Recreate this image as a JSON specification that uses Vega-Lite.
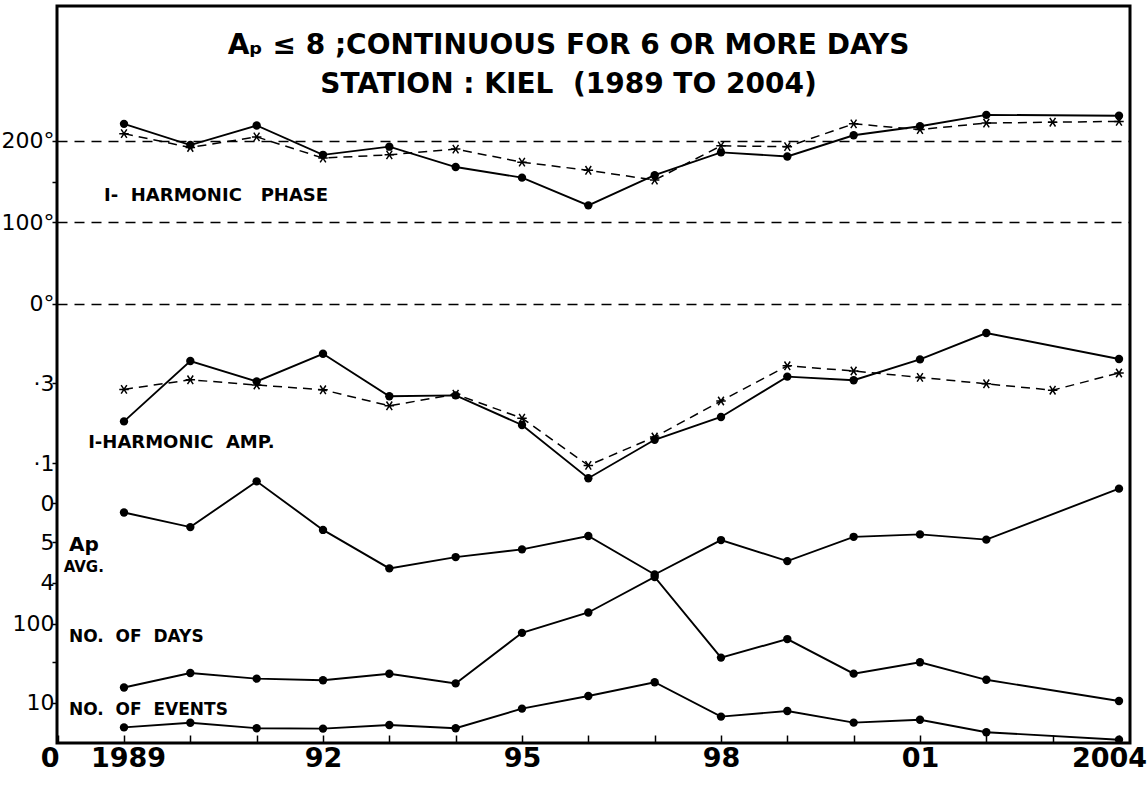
{
  "$schema": "https://vega.github.io/schema/vega-lite/v6.json",
  "width": 1073,
  "height": 737,
  "autosize": "none",
  "padding": {"left": 57, "top": 6, "right": 18, "bottom": 42},
  "background": "white",
  "config": {
    "view": {"stroke": "black", "strokeWidth": 3},
    "font": "DejaVu Sans",
    "axis": {
      "domain": false, "grid": true, "gridColor": "black", "gridWidth": 1.4, "gridDash": [10, 7],
      "tickColor": "black", "tickWidth": 1.5, "labelColor": "black", "labelFont": "DejaVu Sans",
      "labelFontSize": 22, "labelFontWeight": "normal", "title": null
    },
    "axisY": {"tickSize": 5, "labelPadding": -2},
    "line": {"color": "black", "strokeWidth": 1.9},
    "point": {"color": "black"},
    "text": {"color": "black", "font": "DejaVu Sans", "fontWeight": "bold", "fontSize": 17, "align": "left", "baseline": "middle"}
  },
  "title": {
    "text": ["Aₚ ≤ 8 ;CONTINUOUS FOR 6 OR MORE DAYS", "STATION : KIEL\u00a0\u00a0(1989 TO 2004)"],
    "anchor": "middle", "orient": "top", "offset": 0, "baseline": "alphabetic", "lineHeight": 39,
    "dy": 115, "dx": -25, "fontSize": 28, "font": "DejaVu Sans", "fontWeight": "bold", "color": "black"
  },
  "datasets": {
    "phase": [
      {"year": 1989, "s": "dot", "v": 221}, {"year": 1990, "s": "dot", "v": 195}, {"year": 1991, "s": "dot", "v": 219},
      {"year": 1992, "s": "dot", "v": 183}, {"year": 1993, "s": "dot", "v": 193}, {"year": 1994, "s": "dot", "v": 168},
      {"year": 1995, "s": "dot", "v": 155}, {"year": 1996, "s": "dot", "v": 121}, {"year": 1997, "s": "dot", "v": 158},
      {"year": 1998, "s": "dot", "v": 186}, {"year": 1999, "s": "dot", "v": 181}, {"year": 2000, "s": "dot", "v": 207},
      {"year": 2001, "s": "dot", "v": 218}, {"year": 2002, "s": "dot", "v": 232}, {"year": 2004, "s": "dot", "v": 231},
      {"year": 1989, "s": "cross", "v": 209}, {"year": 1990, "s": "cross", "v": 192}, {"year": 1991, "s": "cross", "v": 205},
      {"year": 1992, "s": "cross", "v": 179}, {"year": 1993, "s": "cross", "v": 183}, {"year": 1994, "s": "cross", "v": 190},
      {"year": 1995, "s": "cross", "v": 174}, {"year": 1996, "s": "cross", "v": 164}, {"year": 1997, "s": "cross", "v": 152},
      {"year": 1998, "s": "cross", "v": 194}, {"year": 1999, "s": "cross", "v": 193}, {"year": 2000, "s": "cross", "v": 221},
      {"year": 2001, "s": "cross", "v": 214}, {"year": 2002, "s": "cross", "v": 222}, {"year": 2003, "s": "cross", "v": 223},
      {"year": 2004, "s": "cross", "v": 224}
    ],
    "amp": [
      {"year": 1989, "s": "dot", "v": 0.204}, {"year": 1990, "s": "dot", "v": 0.355}, {"year": 1991, "s": "dot", "v": 0.304},
      {"year": 1992, "s": "dot", "v": 0.373}, {"year": 1993, "s": "dot", "v": 0.267}, {"year": 1994, "s": "dot", "v": 0.269},
      {"year": 1995, "s": "dot", "v": 0.195}, {"year": 1996, "s": "dot", "v": 0.062}, {"year": 1997, "s": "dot", "v": 0.158},
      {"year": 1998, "s": "dot", "v": 0.215}, {"year": 1999, "s": "dot", "v": 0.316}, {"year": 2000, "s": "dot", "v": 0.307},
      {"year": 2001, "s": "dot", "v": 0.359}, {"year": 2002, "s": "dot", "v": 0.425}, {"year": 2004, "s": "dot", "v": 0.36},
      {"year": 1989, "s": "cross", "v": 0.284}, {"year": 1990, "s": "cross", "v": 0.308}, {"year": 1991, "s": "cross", "v": 0.295},
      {"year": 1992, "s": "cross", "v": 0.283}, {"year": 1993, "s": "cross", "v": 0.243}, {"year": 1994, "s": "cross", "v": 0.272},
      {"year": 1995, "s": "cross", "v": 0.212}, {"year": 1996, "s": "cross", "v": 0.094}, {"year": 1997, "s": "cross", "v": 0.165},
      {"year": 1998, "s": "cross", "v": 0.255}, {"year": 1999, "s": "cross", "v": 0.343}, {"year": 2000, "s": "cross", "v": 0.33},
      {"year": 2001, "s": "cross", "v": 0.314}, {"year": 2002, "s": "cross", "v": 0.298}, {"year": 2003, "s": "cross", "v": 0.282},
      {"year": 2004, "s": "cross", "v": 0.325}
    ],
    "ap": [
      {"year": 1989, "v": 5.74}, {"year": 1990, "v": 5.38}, {"year": 1991, "v": 6.51}, {"year": 1992, "v": 5.31},
      {"year": 1993, "v": 4.36}, {"year": 1994, "v": 4.64}, {"year": 1995, "v": 4.83}, {"year": 1996, "v": 5.16},
      {"year": 1997, "v": 4.21}, {"year": 1998, "v": 5.06}, {"year": 1999, "v": 4.54}, {"year": 2000, "v": 5.14},
      {"year": 2001, "v": 5.2}, {"year": 2002, "v": 5.07}, {"year": 2004, "v": 6.33}
    ],
    "days": [
      {"year": 1989, "v": 27.6}, {"year": 1990, "v": 44.1}, {"year": 1991, "v": 37.7}, {"year": 1992, "v": 35.9},
      {"year": 1993, "v": 43.3}, {"year": 1994, "v": 32.3}, {"year": 1995, "v": 89.9}, {"year": 1996, "v": 113.1},
      {"year": 1997, "v": 153.5}, {"year": 1998, "v": 61.7}, {"year": 1999, "v": 82.8}, {"year": 2000, "v": 43.4},
      {"year": 2001, "v": 56.4}, {"year": 2002, "v": 36.4}, {"year": 2004, "v": 12.3}
    ],
    "events": [
      {"year": 1989, "v": 3.9}, {"year": 1990, "v": 5.05}, {"year": 1991, "v": 3.7}, {"year": 1992, "v": 3.6},
      {"year": 1993, "v": 4.5}, {"year": 1994, "v": 3.7}, {"year": 1995, "v": 8.6}, {"year": 1996, "v": 11.75},
      {"year": 1997, "v": 15.2}, {"year": 1998, "v": 6.6}, {"year": 1999, "v": 8}, {"year": 2000, "v": 5.1},
      {"year": 2001, "v": 5.8}, {"year": 2002, "v": 2.7}, {"year": 2004, "v": 0.8}
    ]
  },
  "encoding": {
    "x": {
      "field": "year", "type": "quantitative",
      "scale": {"domain": [1987.99, 2004.166], "nice": false, "zero": false},
      "axis": {
        "grid": false, "orient": "bottom",
        "values": [1988, 1989, 1990, 1991, 1992, 1993, 1994, 1995, 1996, 1997, 1998, 1999, 2000, 2001, 2002, 2003, 2004],
        "labelExpr": "datum.value == 1988 ? '0' : datum.value == 1989 ? '1989' : datum.value == 1992 ? '92' : datum.value == 1995 ? '95' : datum.value == 1998 ? '98' : datum.value == 2001 ? '01' : datum.value == 2004 ? '2004' : ''",
        "labelOffset": {"condition": [{"test": "datum.value == 2004", "value": -10}, {"test": "datum.value == 1988", "value": -8}, {"test": "datum.value == 1989", "value": 4}], "value": 0},
        "tickSize": -8, "labelPadding": 10, "labelFontSize": 27, "labelFontWeight": "bold", "labelFlush": false, "labelOverlap": false
      }
    }
  },
  "layer": [
    {
      "data": {"name": "phase"},
      "encoding": {
        "y": {
          "field": "v", "type": "quantitative",
          "scale": {"domain": [-538.7, 365.6], "nice": false, "zero": false},
          "axis": {
            "orient": "left", "values": [0, 100, 150, 200],
            "labelExpr": "datum.value == 150 ? '' : datum.value + '°'",
            "gridOpacity": {"condition": {"test": "datum.value == 150", "value": 0}, "value": 1}
          }
        }
      },
      "layer": [
        {"transform": [{"filter": "datum.s == 'dot'"}], "mark": {"type": "line", "point": {"filled": true, "size": 70}}},
        {"transform": [{"filter": "datum.s == 'cross'"}], "mark": {"type": "line", "strokeDash": [9, 6], "strokeWidth": 1.5, "point": {"shape": "M-1,0L1,0M-0.6,-0.9L0.6,0.9M0.6,-0.9L-0.6,0.9", "filled": false, "size": 90, "strokeWidth": 1.5}}},
        {"data": {"values": [{"year": 1988.7, "v": 132, "t": "I-\u00a0\u00a0HARMONIC\u00a0\u00a0\u00a0PHASE"}]}, "mark": {"type": "text", "fontSize": 18}, "encoding": {"text": {"field": "t"}}}
      ]
    },
    {
      "data": {"name": "amp"},
      "encoding": {
        "y": {
          "field": "v", "type": "quantitative",
          "scale": {"domain": [-0.6, 1.2425], "nice": false, "zero": false},
          "axis": {
            "orient": "left", "values": [0, 0.1, 0.3],
            "labelExpr": "datum.value == 0 ? '0' : datum.value > 0.2 ? '·3' : '·1'",
            "gridDash": {"condition": {"test": "datum.value > 0.05 && datum.value < 0.2", "value": []}, "value": [10, 7]},
            "gridOpacity": {"condition": {"test": "datum.value > 0.2", "value": 0}, "value": 1}
          }
        }
      },
      "layer": [
        {"transform": [{"filter": "datum.s == 'dot'"}], "mark": {"type": "line", "point": {"filled": true, "size": 70}}},
        {"transform": [{"filter": "datum.s == 'cross'"}], "mark": {"type": "line", "strokeDash": [9, 6], "strokeWidth": 1.5, "point": {"shape": "M-1,0L1,0M-0.6,-0.9L0.6,0.9M0.6,-0.9L-0.6,0.9", "filled": false, "size": 90, "strokeWidth": 1.5}}},
        {"data": {"values": [{"year": 1988.46, "v": 0.15, "t": "I-HARMONIC\u00a0\u00a0AMP."}]}, "mark": {"type": "text", "fontSize": 18}, "encoding": {"text": {"field": "t"}}}
      ]
    },
    {
      "data": {"name": "ap"},
      "encoding": {
        "y": {
          "field": "v", "type": "quantitative",
          "scale": {"domain": [0.049, 18.247], "nice": false, "zero": false},
          "axis": {
            "orient": "left", "values": [4, 5],
            "gridOpacity": {"condition": {"test": "datum.value > 4.5", "value": 0}, "value": 1}
          }
        }
      },
      "layer": [
        {"mark": {"type": "line", "point": {"filled": true, "size": 70}}},
        {"data": {"values": [{"year": 1988.17, "v": 4.94, "t": "Ap"}]}, "mark": {"type": "text", "fontSize": 20}, "encoding": {"text": {"field": "t"}}},
        {"data": {"values": [{"year": 1988.09, "v": 4.4, "t": "AVG."}]}, "mark": {"type": "text", "fontSize": 15}, "encoding": {"text": {"field": "t"}}}
      ]
    },
    {
      "data": {"name": "days"},
      "encoding": {
        "y": {
          "field": "v", "type": "quantitative",
          "scale": {"domain": [-35.6, 804], "nice": false, "zero": false},
          "axis": {
            "orient": "left", "values": [10, 57, 100],
            "labelExpr": "datum.value == 57 ? '' : datum.label",
            "gridOpacity": {"condition": {"test": "datum.value == 57", "value": 0}, "value": 1}
          }
        }
      },
      "layer": [
        {"mark": {"type": "line", "point": {"filled": true, "size": 70}}},
        {"data": {"values": [{"year": 1988.17, "v": 85, "t": "NO.\u00a0\u00a0OF\u00a0\u00a0DAYS"}]}, "mark": {"type": "text", "fontSize": 17}, "encoding": {"text": {"field": "t"}}}
      ]
    },
    {
      "data": {"name": "events"},
      "encoding": {
        "y": {
          "field": "v", "type": "quantitative",
          "scale": {"domain": [0, 184.25], "nice": false, "zero": false},
          "axis": null
        }
      },
      "layer": [
        {"mark": {"type": "line", "point": {"filled": true, "size": 70}}},
        {"data": {"values": [{"year": 1988.17, "v": 8.25, "t": "NO.\u00a0\u00a0OF\u00a0\u00a0EVENTS"}]}, "mark": {"type": "text", "fontSize": 17}, "encoding": {"text": {"field": "t"}}}
      ]
    }
  ],
  "resolve": {"scale": {"y": "independent"}}
}
